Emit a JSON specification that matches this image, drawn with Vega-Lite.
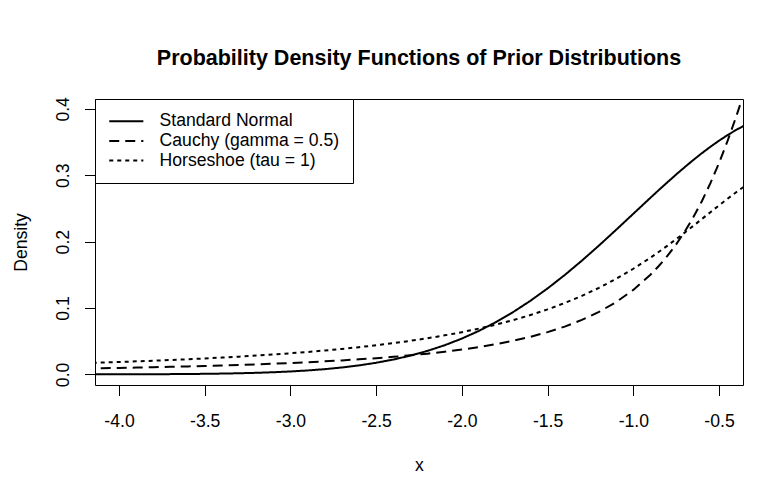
{
  "$schema": "https://vega.github.io/schema/vega-lite/v6.json",
  "autosize": {"type": "none"},
  "padding": {"left": 95, "top": 99, "right": 32, "bottom": 107},
  "width": 648,
  "height": 286,
  "background": "white",
  "title": {
    "text": "Probability Density Functions of Prior Distributions",
    "font": "Liberation Sans",
    "fontSize": 21.5,
    "fontWeight": "bold",
    "color": "black",
    "anchor": "middle",
    "offset": 27
  },
  "config": {
    "view": {"stroke": "black", "strokeWidth": 1},
    "font": "Liberation Sans",
    "axis": {
      "domain": false,
      "grid": false,
      "tickColor": "black",
      "tickSize": 10.5,
      "tickWidth": 1,
      "labelFont": "Liberation Sans",
      "labelFontSize": 17.6,
      "labelColor": "black",
      "labelExpr": "replace(format(datum.value, '.1f'), '\u2212', '-')",
      "titleFont": "Liberation Sans",
      "titleFontSize": 17.6,
      "titleFontWeight": "normal",
      "titleColor": "black"
    }
  },
  "data": {
    "values": [
      {"x": -4.2, "density": 0.0000589, "dist": "Standard Normal"},
      {"x": -4.1, "density": 0.0000893, "dist": "Standard Normal"},
      {"x": -4.0, "density": 0.0001338, "dist": "Standard Normal"},
      {"x": -3.9, "density": 0.0001987, "dist": "Standard Normal"},
      {"x": -3.8, "density": 0.0002919, "dist": "Standard Normal"},
      {"x": -3.7, "density": 0.0004248, "dist": "Standard Normal"},
      {"x": -3.6, "density": 0.000612, "dist": "Standard Normal"},
      {"x": -3.5, "density": 0.0008727, "dist": "Standard Normal"},
      {"x": -3.4, "density": 0.0012322, "dist": "Standard Normal"},
      {"x": -3.3, "density": 0.0017226, "dist": "Standard Normal"},
      {"x": -3.2, "density": 0.0023841, "dist": "Standard Normal"},
      {"x": -3.1, "density": 0.0032668, "dist": "Standard Normal"},
      {"x": -3.0, "density": 0.0044318, "dist": "Standard Normal"},
      {"x": -2.9, "density": 0.0059525, "dist": "Standard Normal"},
      {"x": -2.8, "density": 0.0079155, "dist": "Standard Normal"},
      {"x": -2.7, "density": 0.010421, "dist": "Standard Normal"},
      {"x": -2.6, "density": 0.013583, "dist": "Standard Normal"},
      {"x": -2.5, "density": 0.017528, "dist": "Standard Normal"},
      {"x": -2.4, "density": 0.022395, "dist": "Standard Normal"},
      {"x": -2.3, "density": 0.028327, "dist": "Standard Normal"},
      {"x": -2.2, "density": 0.035475, "dist": "Standard Normal"},
      {"x": -2.1, "density": 0.043984, "dist": "Standard Normal"},
      {"x": -2.0, "density": 0.053991, "dist": "Standard Normal"},
      {"x": -1.9, "density": 0.065616, "dist": "Standard Normal"},
      {"x": -1.8, "density": 0.07895, "dist": "Standard Normal"},
      {"x": -1.7, "density": 0.094049, "dist": "Standard Normal"},
      {"x": -1.6, "density": 0.110921, "dist": "Standard Normal"},
      {"x": -1.5, "density": 0.129518, "dist": "Standard Normal"},
      {"x": -1.4, "density": 0.149727, "dist": "Standard Normal"},
      {"x": -1.3, "density": 0.171369, "dist": "Standard Normal"},
      {"x": -1.2, "density": 0.194186, "dist": "Standard Normal"},
      {"x": -1.1, "density": 0.217852, "dist": "Standard Normal"},
      {"x": -1.0, "density": 0.241971, "dist": "Standard Normal"},
      {"x": -0.9, "density": 0.266085, "dist": "Standard Normal"},
      {"x": -0.85, "density": 0.277983, "dist": "Standard Normal"},
      {"x": -0.8, "density": 0.289692, "dist": "Standard Normal"},
      {"x": -0.75, "density": 0.301137, "dist": "Standard Normal"},
      {"x": -0.7, "density": 0.312254, "dist": "Standard Normal"},
      {"x": -0.65, "density": 0.322972, "dist": "Standard Normal"},
      {"x": -0.6, "density": 0.333225, "dist": "Standard Normal"},
      {"x": -0.55, "density": 0.342944, "dist": "Standard Normal"},
      {"x": -0.5, "density": 0.352065, "dist": "Standard Normal"},
      {"x": -0.45, "density": 0.360527, "dist": "Standard Normal"},
      {"x": -0.4, "density": 0.36827, "dist": "Standard Normal"},
      {"x": -0.35, "density": 0.37524, "dist": "Standard Normal"},
      {"x": -0.3, "density": 0.381388, "dist": "Standard Normal"},

      {"x": -4.2, "density": 0.008896, "dist": "Cauchy (gamma = 0.5)"},
      {"x": -4.1, "density": 0.009329, "dist": "Cauchy (gamma = 0.5)"},
      {"x": -4.0, "density": 0.009794, "dist": "Cauchy (gamma = 0.5)"},
      {"x": -3.9, "density": 0.010295, "dist": "Cauchy (gamma = 0.5)"},
      {"x": -3.8, "density": 0.010834, "dist": "Cauchy (gamma = 0.5)"},
      {"x": -3.7, "density": 0.011417, "dist": "Cauchy (gamma = 0.5)"},
      {"x": -3.6, "density": 0.012048, "dist": "Cauchy (gamma = 0.5)"},
      {"x": -3.5, "density": 0.012732, "dist": "Cauchy (gamma = 0.5)"},
      {"x": -3.4, "density": 0.013476, "dist": "Cauchy (gamma = 0.5)"},
      {"x": -3.3, "density": 0.014287, "dist": "Cauchy (gamma = 0.5)"},
      {"x": -3.2, "density": 0.015172, "dist": "Cauchy (gamma = 0.5)"},
      {"x": -3.1, "density": 0.016141, "dist": "Cauchy (gamma = 0.5)"},
      {"x": -3.0, "density": 0.017206, "dist": "Cauchy (gamma = 0.5)"},
      {"x": -2.9, "density": 0.018378, "dist": "Cauchy (gamma = 0.5)"},
      {"x": -2.8, "density": 0.019673, "dist": "Cauchy (gamma = 0.5)"},
      {"x": -2.7, "density": 0.021108, "dist": "Cauchy (gamma = 0.5)"},
      {"x": -2.6, "density": 0.022704, "dist": "Cauchy (gamma = 0.5)"},
      {"x": -2.5, "density": 0.024485, "dist": "Cauchy (gamma = 0.5)"},
      {"x": -2.4, "density": 0.026482, "dist": "Cauchy (gamma = 0.5)"},
      {"x": -2.3, "density": 0.028728, "dist": "Cauchy (gamma = 0.5)"},
      {"x": -2.2, "density": 0.031268, "dist": "Cauchy (gamma = 0.5)"},
      {"x": -2.1, "density": 0.034153, "dist": "Cauchy (gamma = 0.5)"},
      {"x": -2.0, "density": 0.037448, "dist": "Cauchy (gamma = 0.5)"},
      {"x": -1.9, "density": 0.041232, "dist": "Cauchy (gamma = 0.5)"},
      {"x": -1.8, "density": 0.045603, "dist": "Cauchy (gamma = 0.5)"},
      {"x": -1.7, "density": 0.050686, "dist": "Cauchy (gamma = 0.5)"},
      {"x": -1.6, "density": 0.056639, "dist": "Cauchy (gamma = 0.5)"},
      {"x": -1.5, "density": 0.063662, "dist": "Cauchy (gamma = 0.5)"},
      {"x": -1.4, "density": 0.072016, "dist": "Cauchy (gamma = 0.5)"},
      {"x": -1.3, "density": 0.082039, "dist": "Cauchy (gamma = 0.5)"},
      {"x": -1.2, "density": 0.094175, "dist": "Cauchy (gamma = 0.5)"},
      {"x": -1.1, "density": 0.10901, "dist": "Cauchy (gamma = 0.5)"},
      {"x": -1.0, "density": 0.127324, "dist": "Cauchy (gamma = 0.5)"},
      {"x": -0.9, "density": 0.150146, "dist": "Cauchy (gamma = 0.5)"},
      {"x": -0.85, "density": 0.163656, "dist": "Cauchy (gamma = 0.5)"},
      {"x": -0.8, "density": 0.178826, "dist": "Cauchy (gamma = 0.5)"},
      {"x": -0.75, "density": 0.195883, "dist": "Cauchy (gamma = 0.5)"},
      {"x": -0.7, "density": 0.215074, "dist": "Cauchy (gamma = 0.5)"},
      {"x": -0.65, "density": 0.236662, "dist": "Cauchy (gamma = 0.5)"},
      {"x": -0.6, "density": 0.26091, "dist": "Cauchy (gamma = 0.5)"},
      {"x": -0.55, "density": 0.288063, "dist": "Cauchy (gamma = 0.5)"},
      {"x": -0.5, "density": 0.31831, "dist": "Cauchy (gamma = 0.5)"},
      {"x": -0.45, "density": 0.351724, "dist": "Cauchy (gamma = 0.5)"},
      {"x": -0.4, "density": 0.388183, "dist": "Cauchy (gamma = 0.5)"},
      {"x": -0.35, "density": 0.427262, "dist": "Cauchy (gamma = 0.5)"},
      {"x": -0.3, "density": 0.468103, "dist": "Cauchy (gamma = 0.5)"},

      {"x": -4.2, "density": 0.017077, "dist": "Horseshoe (tau = 1)"},
      {"x": -4.1, "density": 0.017873, "dist": "Horseshoe (tau = 1)"},
      {"x": -4.0, "density": 0.018724, "dist": "Horseshoe (tau = 1)"},
      {"x": -3.9, "density": 0.019637, "dist": "Horseshoe (tau = 1)"},
      {"x": -3.8, "density": 0.020616, "dist": "Horseshoe (tau = 1)"},
      {"x": -3.7, "density": 0.021669, "dist": "Horseshoe (tau = 1)"},
      {"x": -3.6, "density": 0.022802, "dist": "Horseshoe (tau = 1)"},
      {"x": -3.5, "density": 0.024023, "dist": "Horseshoe (tau = 1)"},
      {"x": -3.4, "density": 0.025343, "dist": "Horseshoe (tau = 1)"},
      {"x": -3.3, "density": 0.026771, "dist": "Horseshoe (tau = 1)"},
      {"x": -3.2, "density": 0.028319, "dist": "Horseshoe (tau = 1)"},
      {"x": -3.1, "density": 0.030001, "dist": "Horseshoe (tau = 1)"},
      {"x": -3.0, "density": 0.031831, "dist": "Horseshoe (tau = 1)"},
      {"x": -2.9, "density": 0.033827, "dist": "Horseshoe (tau = 1)"},
      {"x": -2.8, "density": 0.036008, "dist": "Horseshoe (tau = 1)"},
      {"x": -2.7, "density": 0.038397, "dist": "Horseshoe (tau = 1)"},
      {"x": -2.6, "density": 0.041019, "dist": "Horseshoe (tau = 1)"},
      {"x": -2.5, "density": 0.043905, "dist": "Horseshoe (tau = 1)"},
      {"x": -2.4, "density": 0.047087, "dist": "Horseshoe (tau = 1)"},
      {"x": -2.3, "density": 0.050606, "dist": "Horseshoe (tau = 1)"},
      {"x": -2.2, "density": 0.054505, "dist": "Horseshoe (tau = 1)"},
      {"x": -2.1, "density": 0.058837, "dist": "Horseshoe (tau = 1)"},
      {"x": -2.0, "density": 0.063662, "dist": "Horseshoe (tau = 1)"},
      {"x": -1.9, "density": 0.069048, "dist": "Horseshoe (tau = 1)"},
      {"x": -1.8, "density": 0.075073, "dist": "Horseshoe (tau = 1)"},
      {"x": -1.7, "density": 0.081828, "dist": "Horseshoe (tau = 1)"},
      {"x": -1.6, "density": 0.089413, "dist": "Horseshoe (tau = 1)"},
      {"x": -1.5, "density": 0.097942, "dist": "Horseshoe (tau = 1)"},
      {"x": -1.4, "density": 0.107537, "dist": "Horseshoe (tau = 1)"},
      {"x": -1.3, "density": 0.118331, "dist": "Horseshoe (tau = 1)"},
      {"x": -1.2, "density": 0.130455, "dist": "Horseshoe (tau = 1)"},
      {"x": -1.1, "density": 0.144032, "dist": "Horseshoe (tau = 1)"},
      {"x": -1.0, "density": 0.159155, "dist": "Horseshoe (tau = 1)"},
      {"x": -0.9, "density": 0.175862, "dist": "Horseshoe (tau = 1)"},
      {"x": -0.85, "density": 0.184795, "dist": "Horseshoe (tau = 1)"},
      {"x": -0.8, "density": 0.194091, "dist": "Horseshoe (tau = 1)"},
      {"x": -0.75, "density": 0.203718, "dist": "Horseshoe (tau = 1)"},
      {"x": -0.7, "density": 0.213631, "dist": "Horseshoe (tau = 1)"},
      {"x": -0.65, "density": 0.223768, "dist": "Horseshoe (tau = 1)"},
      {"x": -0.6, "density": 0.234051, "dist": "Horseshoe (tau = 1)"},
      {"x": -0.55, "density": 0.244384, "dist": "Horseshoe (tau = 1)"},
      {"x": -0.5, "density": 0.254648, "dist": "Horseshoe (tau = 1)"},
      {"x": -0.45, "density": 0.264707, "dist": "Horseshoe (tau = 1)"},
      {"x": -0.4, "density": 0.274405, "dist": "Horseshoe (tau = 1)"},
      {"x": -0.35, "density": 0.283572, "dist": "Horseshoe (tau = 1)"},
      {"x": -0.3, "density": 0.292028, "dist": "Horseshoe (tau = 1)"}
    ]
  },
  "mark": {"type": "line", "clip": true, "color": "black", "strokeWidth": 2},
  "encoding": {
    "x": {
      "field": "x",
      "type": "quantitative",
      "scale": {"domain": [-4.14, -0.36], "nice": false, "zero": false},
      "axis": {
        "title": "x",
        "values": [-4, -3.5, -3, -2.5, -2, -1.5, -1, -0.5],
        "labelPadding": 16.5,
        "titlePadding": 27
      }
    },
    "y": {
      "field": "density",
      "type": "quantitative",
      "scale": {"domain": [-0.01596, 0.4149], "nice": false, "zero": false},
      "axis": {
        "title": "Density",
        "values": [0, 0.1, 0.2, 0.3, 0.4],
        "labelAngle": -90,
        "labelAlign": "center",
        "labelBaseline": "alphabetic",
        "labelPadding": 16,
        "titlePadding": 24
      }
    },
    "strokeDash": {
      "field": "dist",
      "type": "nominal",
      "scale": {
        "domain": ["Standard Normal", "Cauchy (gamma = 0.5)", "Horseshoe (tau = 1)"],
        "range": [[1, 0], [10, 6], [4, 4]]
      },
      "legend": {
        "title": null,
        "orient": "top-left",
        "offset": 0,
        "padding": 13.5,
        "strokeColor": "black",
        "fillColor": "white",
        "symbolType": "M-3.1,0H3.1",
        "symbolSize": 121,
        "symbolStrokeWidth": 2,
        "symbolStrokeColor": "black",
        "symbolFillColor": "transparent",
        "symbolOffset": 9,
        "labelFont": "Liberation Sans",
        "labelFontSize": 17.6,
        "labelColor": "black",
        "labelLimit": 400,
        "labelOffset": 24.5,
        "rowPadding": 0.6
      }
    }
  }
}
